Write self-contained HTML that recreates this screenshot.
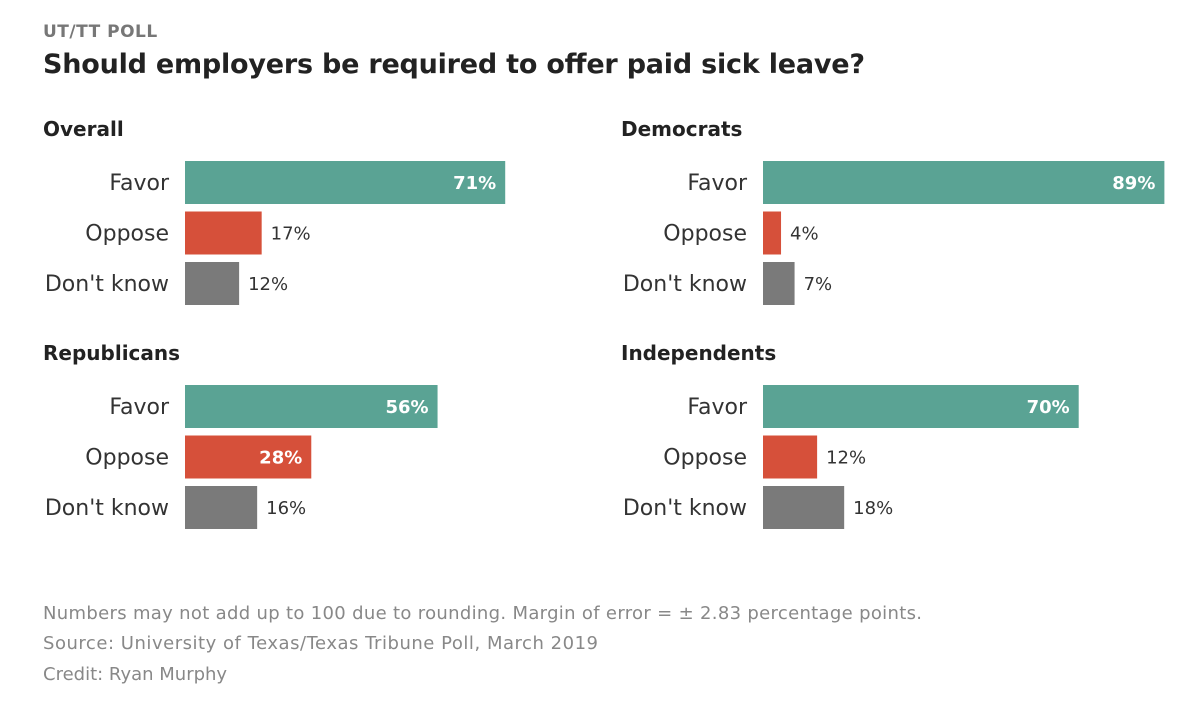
<!DOCTYPE html>
<html><head><meta charset="utf-8"><style>
body{margin:0;background:#fff;width:1200px;height:718px;overflow:hidden;font-family:"DejaVu Sans","Liberation Sans",sans-serif;}
</style></head><body>
<svg width="1200" height="718" font-family="DejaVu Sans, Liberation Sans, sans-serif">
<text x="43" y="37" font-size="17" font-weight="bold" fill="#777" letter-spacing="0.5">UT/TT POLL</text>
<text x="43" y="73" font-size="27" font-weight="bold" fill="#222" textLength="822">Should employers be required to offer paid sick leave?</text>
<g id="panels"></g>
<text x="43" y="619" font-size="18" fill="#888" textLength="879">Numbers may not add up to 100 due to rounding. Margin of error = ± 2.83 percentage points.</text>
<text x="43" y="649" font-size="18" fill="#888" textLength="555">Source: University of Texas/Texas Tribune Poll, March 2019</text>
<text x="43" y="680" font-size="18" fill="#888">Credit: Ryan Murphy</text>
</svg>
<script>
const groups=["Overall","Democrats","Republicans","Independents"];
const categories=["Favor","Oppose","Don't know"];
const overall=[71,17,12];
const democrats=[89,4,7];
const republicans=[56,28,16];
const independents=[70,12,18];
const series=[overall,democrats,republicans,independents];
const colors=["#5aa394","#d6503a","#7a7a7a"];
const ns="http://www.w3.org/2000/svg";
const g=document.getElementById('panels');
const xs=v=>v*4.51;
function mk(t,a,txt){const e=document.createElementNS(ns,t);for(const k in a)e.setAttribute(k,a[k]);if(txt!==undefined)e.textContent=txt;g.appendChild(e);return e;}
const px=[[43,185],[621,763],[43,185],[621,763]];
const py=[161,161,385,385];
groups.forEach((name,i)=>{
 const [lx,bx]=px[i];const y0=py[i];
 const t=mk('text',{x:lx,y:y0-25,'font-size':20,'font-weight':'bold',fill:'#222'},name);
 
 
 categories.forEach((c,j)=>{
  const y=y0+j*50.5;const v=series[i][j];
  const l=mk('text',{x:bx-16,y:y+29,'font-size':22,fill:'#333','text-anchor':'end'},c);
  
  
  const r=mk('rect',{x:bx,y:y,width:xs(v),height:43,fill:colors[j]});
  
  
  const inside=v>=25;
  const vt=mk('text',{x:inside?bx+xs(v)-9:bx+xs(v)+9,y:y+28,'font-size':18,fill:inside?'#fff':'#333','font-weight':inside?'bold':'normal','text-anchor':inside?'end':'start'},v+'%');
  
  
 });
});
</script>
</body></html>
